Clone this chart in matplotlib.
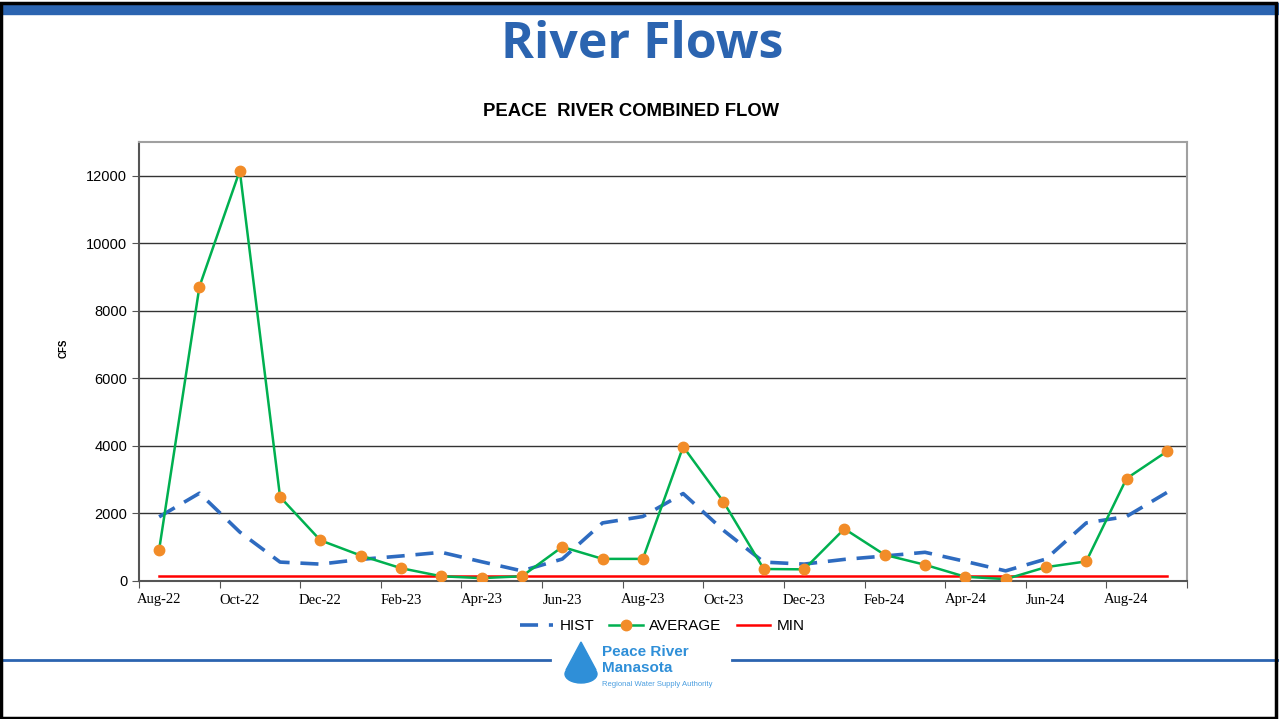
import matplotlib
matplotlib.use('Agg')
import matplotlib.pyplot as plt
from matplotlib.patches import Rectangle, Circle, Polygon
from matplotlib.lines import Line2D

MONTHS = ['Aug-22', 'Sep-22', 'Oct-22', 'Nov-22', 'Dec-22', 'Jan-23', 'Feb-23',
          'Mar-23', 'Apr-23', 'May-23', 'Jun-23', 'Jul-23', 'Aug-23', 'Sep-23',
          'Oct-23', 'Nov-23', 'Dec-23', 'Jan-24', 'Feb-24', 'Mar-24', 'Apr-24',
          'May-24', 'Jun-24', 'Jul-24', 'Aug-24', 'Sep-24']

HIST = [1900, 2600, 1450, 560, 500, 640, 740, 850, 570, 300, 650, 1720,
        1910, 2590, 1500, 560, 500, 640, 740, 850, 580, 300, 650, 1720,
        1910, 2620]

AVERAGE = [930, 8720, 12150, 2490, 1205, 755, 380, 140, 85, 140, 1010, 655,
           655, 3980, 2345, 355, 345, 1545, 775, 480, 125, 55, 410, 580,
           3035, 3835]

MIN = [135] * len(MONTHS)

BLUE = '#2b64b0'

fig = plt.figure(figsize=(12.79, 7.19), dpi=100)

# slide decorations
fig.patches.append(Rectangle((0, 1 - 14/719), 1, 11/719, transform=fig.transFigure,
                             color=BLUE, zorder=0))
fig.patches.append(Rectangle((0.001, 0.002), 0.997, 0.994, transform=fig.transFigure,
                             fill=False, ec='black', lw=2.5, zorder=5))
fig.lines.append(Line2D([0, 550/1279], [1 - 660/719] * 2, transform=fig.transFigure,
                        color=BLUE, lw=2))
fig.lines.append(Line2D([732/1279, 1], [1 - 660/719] * 2, transform=fig.transFigure,
                        color=BLUE, lw=2))

fig.text(642/1279, 1 - 58/719, 'River Flows', ha='center', va='baseline', fontsize=36,
         fontweight='bold', color=BLUE, family=['Open Sans', 'DejaVu Sans'])
fig.text(631/1279, 1 - 111/719, 'PEACE  RIVER COMBINED FLOW', ha='center', va='center',
         fontsize=13.3, fontweight='bold', family='Liberation Sans')

# logo
fig.patches.append(Circle((581/1279, 1 - 674/719), 16/1279, transform=fig.transFigure,
                          color='#2f8fd8', zorder=3))
fig.patches.append(Polygon([[566/1279, 1 - 670/719], [581/1279, 1 - 642/719],
                            [596/1279, 1 - 670/719]], closed=True,
                           transform=fig.transFigure, color='#2f8fd8', zorder=3))
fig.text(602/1279, 1 - 652/719, 'Peace River', fontsize=11, fontweight='bold',
         color='#2f8fd8', va='center', family='Liberation Sans')
fig.text(602/1279, 1 - 668/719, 'Manasota', fontsize=11, fontweight='bold',
         color='#2f8fd8', va='center', family='Liberation Sans')
fig.text(602/1279, 1 - 685/719, 'Regional Water Supply Authority', fontsize=5.5,
         color='#4a9ee0', va='center', family='Liberation Sans')

ax = fig.add_axes([139/1279, 1 - 581/719, (1187 - 139)/1279, (581 - 142)/719])
x = list(range(len(MONTHS)))

ax.plot(x, HIST, color='#2e6bc0', lw=2.6, dashes=(5, 3), label='HIST', zorder=3)
ax.plot(x, AVERAGE, color='#00b050', lw=1.8, marker='o', markersize=7.5,
        markerfacecolor='#f28c28', markeredgecolor='#f28c28', label='AVERAGE', zorder=4)
ax.plot(x, MIN, color='#ff0000', lw=1.8, label='MIN', zorder=3)

ax.set_xlim(-0.5, len(MONTHS) - 0.5)
ax.set_ylim(0, 13000)
ax.set_yticks(range(0, 13000, 2000))
ax.yaxis.grid(True, color='#333333', lw=1)
ax.set_axisbelow(True)

ax.set_xticks([i - 0.5 for i in range(0, len(MONTHS) + 1, 2)])
ax.set_xticklabels([])
ax.set_xticks(x[::2], minor=True)
ax.set_xticklabels(MONTHS[::2], minor=True, family='Liberation Serif', fontsize=10.5)
ax.tick_params(axis='x', which='minor', length=0, pad=9)
ax.tick_params(axis='x', which='major', length=5, color='#555555')
ax.tick_params(axis='y', length=5, color='#555555', labelsize=10.5)
for lab in ax.get_yticklabels():
    lab.set_family('Liberation Sans')

for s in ['left', 'bottom']:
    ax.spines[s].set_color('#555555')
    ax.spines[s].set_linewidth(1.5)
for s in ['top', 'right']:
    ax.spines[s].set_color('#a0a0a0')
    ax.spines[s].set_linewidth(1.5)

ax.set_ylabel('CFS', fontsize=7, fontweight='bold', family='Liberation Sans')
ax.yaxis.set_label_coords(-70/1048, 0.53)

ax.legend(loc='center', bbox_to_anchor=(662/1279, 1 - 626/719),
          bbox_transform=fig.transFigure, ncol=3,
          frameon=False, prop={'family': 'Liberation Sans', 'size': 11},
          handlelength=2.2, columnspacing=1.0, handletextpad=0.4)

fig.savefig('out.png', dpi=100)
